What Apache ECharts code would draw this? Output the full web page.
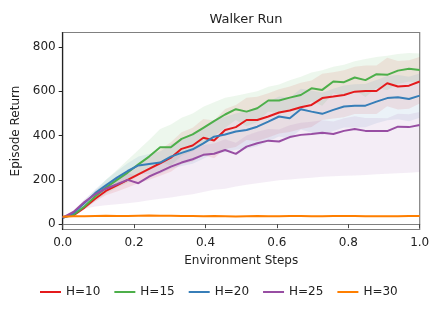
<!DOCTYPE html>
<html><head><meta charset="utf-8">
<script src="https://cdn.jsdelivr.net/npm/echarts@6/dist/echarts.min.js"></script>
<style>html,body{margin:0;padding:0;background:#fff}#c{width:443px;height:310px}</style>
</head><body><div id="c"></div>
<script>
const steps = [0,0.030,0.061,0.091,0.121,0.152,0.182,0.212,0.242,0.273,0.303,0.333,0.364,0.394,0.424,0.455,0.485,0.515,0.545,0.576,0.606,0.636,0.667,0.697,0.727,0.758,0.788,0.818,0.848,0.879,0.909,0.939,0.970,1.0];
const xTicks = [0,0.2,0.4,0.6,0.8,1.0];
const yTicks = [0,200,400,600,800];
const names = ['H=10','H=15','H=20','H=25','H=30'];

const h10 = [32,40,75,115,150,175,200,225,250,275,300,340,355,390,378,425,438,470,470,486,504,513,528,538,569,576,583,598,601,601,636,621,625,644];
const h10Up = [34,45,85,130,172,205,238,270,305,337,370,415,435,475,468,520,538,570,575,591,609,621,638,648,679,686,695,710,716,716,751,736,740,754];
const h10Lo = [30,36,66,102,130,148,166,185,200,219,237,272,283,313,297,339,348,380,375,391,409,416,429,439,470,477,482,497,497,497,532,517,521,545];

const h15 = [30,42,80,125,165,200,233,270,305,347,347,385,405,435,465,495,519,508,523,558,558,571,583,613,606,644,641,662,650,677,674,693,701,696];
const h15Up = [33,50,95,150,200,245,290,335,380,430,450,480,500,530,550,570,580,590,600,620,630,650,665,685,695,710,720,735,745,755,760,768,772,770];
const h15Lo = [28,36,68,105,137,164,187,218,245,281,265,309,329,359,397,435,470,442,461,508,500,508,517,555,535,591,578,604,574,615,605,633,644,637];

const h20 = [27,50,95,140,175,210,240,265,272,278,305,322,338,365,395,405,418,425,440,463,486,478,519,508,498,516,531,534,535,553,569,573,565,580];
const h20Up = [29,56,107,158,199,240,275,305,317,328,360,382,403,435,470,485,500,510,528,553,576,570,611,603,593,611,626,632,633,651,669,673,665,680];
const h20Lo = [25,44,83,122,151,180,205,225,227,228,250,262,273,295,320,325,336,340,352,373,396,386,427,413,403,421,436,436,437,455,469,473,465,480];

const h25 = [30,55,100,135,160,180,200,185,215,237,260,278,293,313,318,335,317,350,365,377,373,393,403,407,413,407,421,430,421,421,420,440,438,448];
const h25Up = [32,61,112,153,182,206,230,217,249,273,298,318,335,357,364,383,367,400,417,429,427,447,458,462,469,463,478,487,479,479,478,498,496,506];
const h25Lo = [28,45,70,80,85,90,95,100,108,115,120,128,135,145,155,160,170,178,185,192,198,202,206,210,214,216,218,220,222,225,228,230,232,235];

const h30 = [33,36,36,37,38,37,37,38,39,38,38,37,37,36,37,36,35,36,37,36,36,37,37,36,36,37,37,37,36,36,36,36,37,37];
const h30Up = [35,38,39,40,41,40,40,41,42,41,41,40,40,39,40,39,38,39,40,39,39,40,40,39,39,40,40,40,39,39,39,39,40,40];
const h30Lo = [31,34,33,34,35,34,34,35,36,35,35,34,34,33,34,33,32,33,34,33,33,34,34,33,33,34,34,34,33,33,33,33,34,34];

const colors = ['#e41a1c','#4daf4a','#377eb8','#984ea3','#ff7f00'];
const lines = [h10,h15,h20,h25,h30];
const bands = [[h10Lo,h10Up],[h15Lo,h15Up],[h20Lo,h20Up],[h25Lo,h25Up],[h30Lo,h30Up]];

function pts(v){ return steps.map((x,i)=>[x,v[i]]); }

const series = [];
bands.forEach((b,k)=>{
  const lo = b[0], up = b[1];
  series.push({type:'custom', silent:true, z:1, animation:false,
    data:[[0, up[0]]],
    renderItem:(params, api)=>{
      const poly = [];
      for (let i=0;i<steps.length;i++) poly.push(api.coord([steps[i], up[i]]));
      for (let i=steps.length-1;i>=0;i--) poly.push(api.coord([steps[i], lo[i]]));
      return {type:'polygon', shape:{points:poly}, style:{fill:colors[k], opacity:0.1}};
    }});
});
lines.forEach((v,k)=>{
  series.push({type:'line', name:names[k], data:pts(v), symbol:'none', color:colors[k],
    lineStyle:{width:2,color:colors[k]}, z:2+k, animation:false});
});

const chart = echarts.init(document.getElementById('c'));
chart.setOption({
  backgroundColor:'#fff',
  animation:false,
  title:{text:'Walker Run', left:241, textAlign:'center', top:8,
    textStyle:{fontFamily:'DejaVu Sans', fontSize:13, fontWeight:'normal', color:'#222'}},
  legend:{data:names, left:40, top:286, padding:0, icon:'rect', itemWidth:21, itemHeight:2, itemGap:14,
    textStyle:{fontFamily:'DejaVu Sans', fontSize:12, color:'#222'}},
  grid:{left:62.7, right:23.3, top:32.5, bottom:80.5, show:true, borderColor:'#808080', borderWidth:1.2},
  xAxis:{type:'value', min:0, max:1, interval:0.2,
    name:'Environment Steps', nameLocation:'middle', nameGap:25,
    nameTextStyle:{fontFamily:'DejaVu Sans', fontSize:12, color:'#222'},
    axisLine:{show:true, lineStyle:{color:'#808080', width:1.2}},
    axisTick:{show:true, length:4, lineStyle:{color:'#444'}, customValues:xTicks},
    axisLabel:{fontFamily:'DejaVu Sans', fontSize:12, color:'#222', margin:7, customValues:xTicks,
      formatter:v=>v.toFixed(1)},
    splitLine:{show:false}},
  yAxis:{type:'value', min:-24, max:865,
    name:'Episode Return', nameLocation:'middle', nameGap:28,
    nameTextStyle:{fontFamily:'DejaVu Sans', fontSize:12, color:'#222'},
    axisLine:{show:true, lineStyle:{color:'#222', width:1.2}},
    axisTick:{show:true, length:4, lineStyle:{color:'#222'}, customValues:yTicks},
    axisLabel:{fontFamily:'DejaVu Sans', fontSize:12, color:'#222', margin:7, customValues:yTicks},
    splitLine:{show:false}},
  series:series
});
</script></body></html>
